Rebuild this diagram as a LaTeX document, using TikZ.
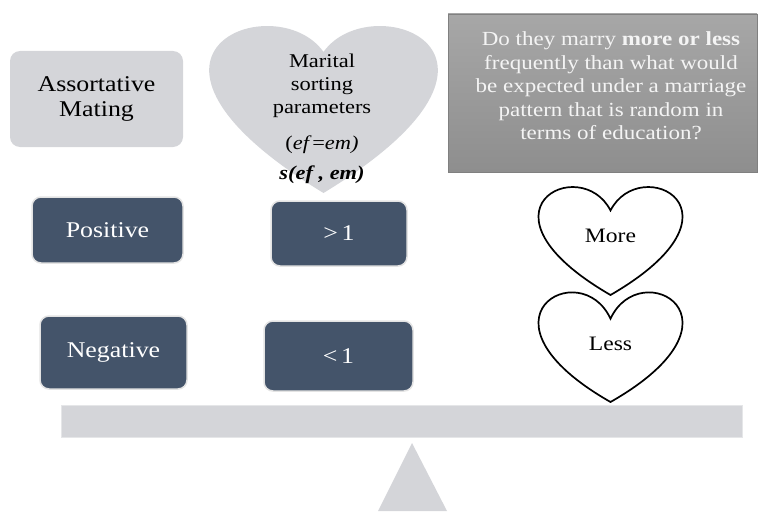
\documentclass[tikz,border=0pt]{standalone}
\usepackage{fontspec}
\setmainfont{Liberation Serif}[FakeStretch=1.15]
\definecolor{lightgrey}{HTML}{D4D5D9}
\definecolor{slate}{HTML}{44546A}
\definecolor{slateedge}{HTML}{E3E3E3}
\definecolor{qtop}{HTML}{A7A7A7}
\definecolor{qbot}{HTML}{8E8E8E}
\definecolor{qtext}{HTML}{F4F4F4}
\newcommand{\hrtshape}[7]{%
  \pgfmathsetmacro\hrtC{#2+#4/2}%
  \pgfmathsetmacro\hrtD{#3+#6*#5}%
  \pgfmathsetmacro\hrtY{#3-#7*#5}%
  \pgfmathsetmacro\hrtXc{\hrtC+#4*10/48}%
  \pgfmathsetmacro\hrtXd{\hrtC+#4*49/48}%
  \pgfmathsetmacro\hrtXb{\hrtC-#4*10/48}%
  \pgfmathsetmacro\hrtXa{\hrtC-#4*49/48}%
  \pgfmathsetmacro\hrtB{#3+#5}%
  \path[#1] (\hrtC,\hrtD) .. controls (\hrtXc,\hrtY) and (\hrtXd,\hrtD) .. (\hrtC,\hrtB)
     .. controls (\hrtXa,\hrtD) and (\hrtXb,\hrtY) .. (\hrtC,\hrtD) -- cycle;%
}
\begin{document}
\begin{tikzpicture}[x=1pt,y=-1pt,
  greybox/.style={fill=lightgrey, rounded corners=10pt, inner sep=0pt, align=center,
    font=\fontsize{22.5}{25}\selectfont},
  darkbox/.style={fill=slate, draw=slateedge, line width=1.5pt, rounded corners=9pt,
    inner sep=0pt, text=white, font=\fontsize{22.5}{25}\selectfont},
  hearttext/.style={align=center, inner sep=0pt, font=\fontsize{19.5}{23}\selectfont},
  outheart/.style={draw=black, line width=1.7pt, fill=white},
  qbox/.style={top color=qtop, bottom color=qbot, draw=qbot!90!black, line width=0.6pt,
    inner sep=0pt},
  qtextstyle/.style={align=center, text=qtext, inner sep=0pt,
    font=\fontsize{20}{23.5}\selectfont},
  plank/.style={fill=lightgrey, draw=lightgrey!60!white, line width=0.8pt}
]
\useasboundingbox (0,0) rectangle (759,511);

% header row
\node[greybox, minimum width=173pt, minimum height=96pt] (assort) at (96.5,99) {Assortative\\Mating};

\hrtshape{fill=lightgrey}{210}{27}{227}{166}{0.15}{0.25}
\node[hearttext] (marital) at (322,86) {Marital\\sorting\\parameters};
\node[hearttext] (eq) at (322,145) {({\itshape ef}\,={\itshape em)}};
\node[hearttext, font=\fontsize{19.5}{23}\selectfont\bfseries\itshape] (sfn) at (322,175) {s(ef , em)};

\node[qbox, minimum width=309pt, minimum height=158pt] (question) at (602.5,93) {};
\node[qtextstyle] (qtext) at (611,86) {Do they marry \textbf{more or less}\\frequently than what would\\be expected under a marriage\\pattern that is random in\\terms of education?};

% positive row
\node[darkbox, minimum width=151pt, minimum height=66pt] (pos) at (107.5,230) {Positive};
\node[darkbox, minimum width=136pt, minimum height=65pt] (gt) at (339,233.5) {>\,1};
\hrtshape{outheart}{539}{188}{143}{107}{0.21}{0.3333}
\node[hearttext, font=\fontsize{20.5}{23}\selectfont] (more) at (610.5,236) {More};

% negative row
\node[darkbox, minimum width=147pt, minimum height=73pt] (neg) at (113.5,352.5) {Negative};
\node[darkbox, minimum width=149pt, minimum height=70pt] (lt) at (338.5,356) {<\,1};
\hrtshape{outheart}{539}{291}{143}{111}{0.25}{0.3333}
\node[hearttext, font=\fontsize{20.5}{23}\selectfont] (less) at (610.5,344) {Less};

% seesaw
\path[plank] (61,405) rectangle (742,437);
\coordinate (apex) at (412,443);
\coordinate (bl) at (378,511);
\coordinate (br) at (447,511);
\fill[lightgrey] (apex) -- (br) -- (bl) -- cycle;
\end{tikzpicture}
\end{document}
